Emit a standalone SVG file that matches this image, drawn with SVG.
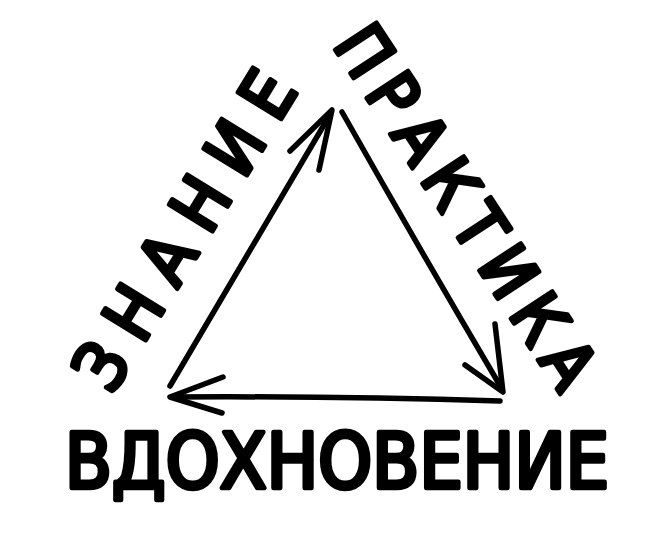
<svg xmlns="http://www.w3.org/2000/svg" width="672" height="540" viewBox="0 0 672 540">
<style>
.lbl{font-family:"DejaVu Sans Condensed","Liberation Sans",sans-serif;font-weight:normal;fill:#000;stroke:#000;stroke-width:4.5;stroke-linejoin:round;stroke-linecap:round;text-anchor:middle}
.ln{fill:none;stroke:#000;stroke-width:5.5;stroke-linecap:round;stroke-linejoin:round}
</style>
<rect width="672" height="540" fill="#fff"/>
<g id="connectors">
<path class="ln" d="M170,386 Q250,250 331,113"/>
<path class="ln" d="M290,151 L332,110 L319,170"/>
<path class="ln" d="M342,112 Q420,250 502,389"/>
<path class="ln" d="M465,365 L503,392 L495,324"/>
<path class="ln" d="M500,401 Q340,396 172,397"/>
<path class="ln" d="M223,377 L170,397 L222,413"/>
</g>
<g id="znanie">
<text class="lbl" transform="translate(184,230) rotate(-58.5)" x="0" y="25" font-size="70" textLength="358" lengthAdjust="spacing">ЗНАНИЕ</text>
</g>
<g id="praktika">
<text class="lbl" transform="translate(467,206) rotate(56.8)" x="0" y="25" font-size="68" textLength="418" lengthAdjust="spacing">ПРАКТИКА</text>
</g>
<g id="vdokhnovenie">
<text class="lbl" x="337" y="488" font-size="76" textLength="544" lengthAdjust="spacing">ВДОХНОВЕНИЕ</text>
</g>
</svg>
